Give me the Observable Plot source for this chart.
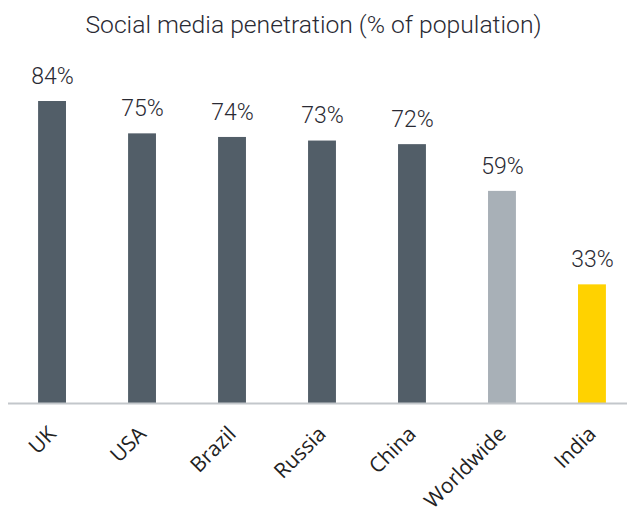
<!DOCTYPE html>
<html><head><meta charset="utf-8">
<script src="https://cdn.jsdelivr.net/npm/d3@7"></script>
<script src="https://cdn.jsdelivr.net/npm/@observablehq/plot@0.6"></script>
<style>
body{margin:0;background:#fff;}
#title{height:50px;width:627px;text-align:center;font-family:Roboto,sans-serif;font-weight:300;font-size:24.7px;color:#2a2a33;line-height:50px;}
</style>
</head><body>
<div id="title">Social media penetration (% of population)</div>
<div id="chart"></div>
<script>
const countries = ["UK","USA","Brazil","Russia","China","Worldwide","India"];
const values = [84,75,74,73,72,59,33];
const groups = ["country","country","country","country","country","world","india"];
const data = countries.map((c,i)=>({country:c, value:values[i], group:groups[i]}));
const chart = Plot.plot({
  width: 627, height: 458,
  marginLeft: 8, marginRight: 0, marginTop: 0, marginBottom: 105,
  x: {domain: countries, range: [-24, 668], padding: 0.69, round: false, label: null},
  y: {domain: [0, 84], range: [353, 51], axis: null},
  color: {domain: ["country","world","india"], range: ["#525e68","#a8b0b7","#ffd200"]},
  style: {fontFamily: "'Open Sans', sans-serif", fontSize: "21px", color: "#222"},
  marks: [
    Plot.barY(data, {x: "country", y: "value", fill: "group"}),
    Plot.ruleY([0], {stroke: "#c3c7cb", strokeWidth: 2}),
    Plot.text(data, {x: "country", y: "value", text: d => d.value + "%", dy: -25, fontSize: 23, fontWeight: 300, fontFamily: "Roboto, sans-serif", fill: "#2a2a33"}),
    Plot.axisX({tickRotate: -45, tickSize: 0, tickPadding: 27, dx: 0, fontSize: 21, label: null})
  ]
});
document.getElementById("chart").appendChild(chart);
</script>
</body></html>
